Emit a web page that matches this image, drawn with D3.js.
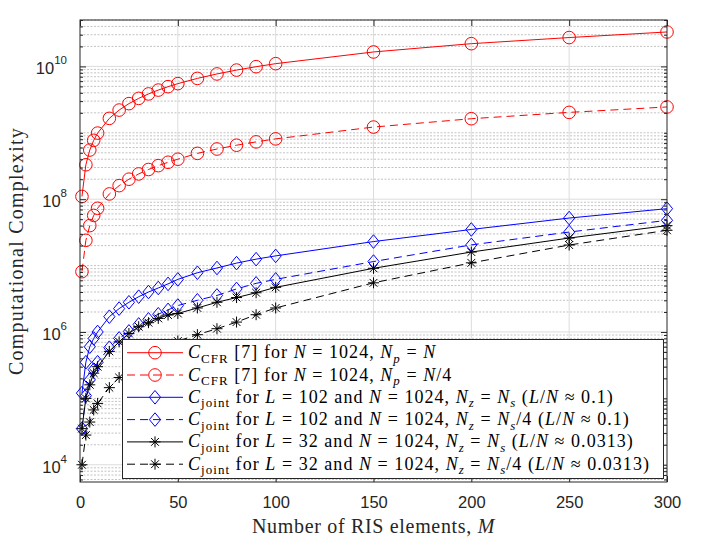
<!DOCTYPE html>
<html>
<head>
<meta charset="utf-8">
<script src="https://cdn.jsdelivr.net/npm/d3@7"></script>
<style>
  body { margin: 0; background: #fff; }
  svg { display: block; }
</style>
</head>
<body>
<svg id="chart" width="716" height="560"></svg>
<script>
// number of RIS elements
const M = [1, 3, 5, 7, 9, 15, 20, 25, 30, 35, 40, 45, 50, 60, 70, 80, 90, 100, 150, 200, 250, 300];

// C_CFR, Np = N
const cfrFull = [1.1e8, 3.3e8, 5.5e8, 7.7e8, 9.9e8, 1.65e9, 2.2e9, 2.75e9, 3.3e9, 3.85e9, 4.4e9,
    4.95e9, 5.5e9, 6.6e9, 7.7e9, 8.8e9, 9.9e9, 1.1e10, 1.65e10, 2.2e10, 2.72e10, 3.3e10];
// C_CFR, Np = N/4
const cfrQuarter = [8.1e6, 2.4e7, 4.0e7, 5.7e7, 7.3e7, 1.2e8, 1.6e8, 2.0e8, 2.4e8, 2.8e8, 3.2e8,
    3.6e8, 4.0e8, 4.9e8, 5.7e8, 6.5e8, 7.3e8, 8.1e8, 1.22e9, 1.63e9, 2.03e9, 2.45e9];
// C_joint, L = 102, Nz = Ns
const joint102 = [1.2e5, 3.5e5, 6.0e5, 8.0e5, 1.0e6, 1.7e6, 2.25e6, 2.8e6, 3.4e6, 4.0e6, 4.6e6,
    5.3e6, 6.2e6, 7.8e6, 9.2e6, 1.09e7, 1.25e7, 1.4e7, 2.3e7, 3.5e7, 5.2e7, 7.2e7];
// C_joint, L = 102, Nz = Ns/4
const joint102q = [3.5e4, 1.1e5, 1.9e5, 2.7e5, 3.5e5, 5.8e5, 8.0e5, 1.02e6, 1.3e6, 1.55e6, 1.85e6,
    2.15e6, 2.5e6, 3.0e6, 3.55e6, 4.45e6, 5.4e6, 6.2e6, 1.15e7, 2.05e7, 3.2e7, 4.8e7];
// C_joint, L = 32, Nz = Ns
const joint32 = [3.5e4, 1.0e5, 1.6e5, 2.4e5, 3.0e5, 5.1e5, 7.1e5, 9.5e5, 1.2e6, 1.38e6, 1.6e6,
    1.8e6, 1.9e6, 2.3e6, 2.8e6, 3.3e6, 3.9e6, 4.7e6, 9.1e6, 1.6e7, 2.6e7, 4.0e7];
// C_joint, L = 32, Nz = Ns/4
const joint32q = [1.0e4, 2.8e4, 4.4e4, 6.7e4, 8.4e4, 1.45e5, 2.06e5, 2.8e5, 3.5e5, 4.3e5, 5.2e5,
    6.2e5, 7.3e5, 9.1e5, 1.12e6, 1.41e6, 1.82e6, 2.3e6, 5.5e6, 1.1e7, 2.04e7, 3.4e7];

const xTicks = [0, 50, 100, 150, 200, 250, 300];
const yTicks = [1e4, 1e6, 1e8, 1e10];

// legend labels: [text, kind] r = roman, i = italic, sr/si = subscript roman/italic
const legendLabels = [
    [["C", "i"], ["CFR", "sr"], [" [7] for ", "r"], ["N", "i"], [" = 1024, ", "r"], ["N", "i"], ["p", "si"], [" = ", "r"], ["N", "i"]],
    [["C", "i"], ["CFR", "sr"], [" [7] for ", "r"], ["N", "i"], [" = 1024, ", "r"], ["N", "i"], ["p", "si"], [" = ", "r"], ["N", "i"], ["/4", "r"]],
    [["C", "i"], ["joint", "sr"], [" for ", "r"], ["L", "i"], [" = 102 and ", "r"], ["N", "i"], [" = 1024, ", "r"], ["N", "i"], ["z", "si"], [" = ", "r"], ["N", "i"], ["s", "si"], [" (", "r"], ["L", "i"], ["/", "r"], ["N", "i"], [" \u2248 0.1)", "r"]],
    [["C", "i"], ["joint", "sr"], [" for ", "r"], ["L", "i"], [" = 102 and ", "r"], ["N", "i"], [" = 1024, ", "r"], ["N", "i"], ["z", "si"], [" = ", "r"], ["N", "i"], ["s", "si"], ["/4 (", "r"], ["L", "i"], ["/", "r"], ["N", "i"], [" \u2248 0.1)", "r"]],
    [["C", "i"], ["joint", "sr"], [" for ", "r"], ["L", "i"], [" = 32 and ", "r"], ["N", "i"], [" = 1024, ", "r"], ["N", "i"], ["z", "si"], [" = ", "r"], ["N", "i"], ["s", "si"], [" (", "r"], ["L", "i"], ["/", "r"], ["N", "i"], [" \u2248 0.0313)", "r"]],
    [["C", "i"], ["joint", "sr"], [" for ", "r"], ["L", "i"], [" = 32 and ", "r"], ["N", "i"], [" = 1024, ", "r"], ["N", "i"], ["z", "si"], [" = ", "r"], ["N", "i"], ["s", "si"], ["/4 (", "r"], ["L", "i"], ["/", "r"], ["N", "i"], [" \u2248 0.0313)", "r"]]
];

const series = [
    { values: cfrFull, color: "#ff0000", dash: null, marker: "circle" },
    { values: cfrQuarter, color: "#ff0000", dash: "8,5", marker: "circle" },
    { values: joint102, color: "#0000ff", dash: null, marker: "diamond" },
    { values: joint102q, color: "#0000ff", dash: "8,5", marker: "diamond" },
    { values: joint32, color: "#000000", dash: null, marker: "star" },
    { values: joint32q, color: "#000000", dash: "8,5", marker: "star" }
];

const svg = d3.select("#chart");
const pLeft = 80, pRight = 667, pTop = 20, pBottom = 482;
const axisColor = "#262626";
const serif = "'Liberation Serif', 'DejaVu Serif', serif";
const sans = "'Liberation Sans', Arial, sans-serif";

const x = d3.scaleLinear().domain([0, 300]).range([pLeft, pRight]);
const y = d3.scaleLog().domain([5.5e3, 5e10]).range([pBottom, pTop]);

// minor values of the log axis
const minor = [];
for (let k = 3; k <= 10; k++) {
    for (let j = 1; j <= 9; j++) {
        const v = j * Math.pow(10, k);
        if (v < y.domain()[0] || v > y.domain()[1]) continue;
        if (yTicks.includes(v)) continue;
        minor.push(v);
    }
}

// grid
const grid = svg.append("g");
grid.selectAll("line.minor")
    .data(minor)
    .join("line")
    .attr("x1", pLeft).attr("x2", pRight)
    .attr("y1", d => y(d)).attr("y2", d => y(d))
    .attr("stroke", "#b4b4b4")
    .attr("stroke-width", 0.8)
    .attr("stroke-dasharray", "2,1.5");
grid.selectAll("line.hmajor")
    .data(yTicks)
    .join("line")
    .attr("x1", pLeft).attr("x2", pRight)
    .attr("y1", d => y(d)).attr("y2", d => y(d))
    .attr("stroke", "#dcdcdc")
    .attr("stroke-width", 1);
grid.selectAll("line.vmajor")
    .data(xTicks.slice(1, -1))
    .join("line")
    .attr("x1", d => x(d)).attr("x2", d => x(d))
    .attr("y1", pTop).attr("y2", pBottom)
    .attr("stroke", "#dcdcdc")
    .attr("stroke-width", 1);

// series
const line = d3.line().x(d => x(d[0])).y(d => y(d[1]));

function drawMarker(g, type, color) {
    if (type === "circle") {
        g.append("circle").attr("r", 6.3)
            .attr("fill", "none").attr("stroke", color).attr("stroke-width", 1);
    } else if (type === "diamond") {
        g.append("path").attr("d", "M0,-6.8L5.6,0L0,6.8L-5.6,0Z")
            .attr("fill", "none").attr("stroke", color).attr("stroke-width", 1);
    } else {
        g.append("path").attr("d", "M0,-5.5V5.5M-5.5,0H5.5M-3.9,-3.9L3.9,3.9M-3.9,3.9L3.9,-3.9")
            .attr("fill", "none").attr("stroke", color).attr("stroke-width", 1);
    }
}

const plot = svg.append("g");
series.forEach(s => {
    const pts = M.map((m, i) => [m, s.values[i]]);
    plot.append("path")
        .datum(pts)
        .attr("d", line)
        .attr("fill", "none")
        .attr("stroke", s.color)
        .attr("stroke-width", 1)
        .attr("stroke-dasharray", s.dash);
    plot.selectAll(null)
        .data(pts)
        .join("g")
        .attr("transform", d => `translate(${x(d[0])},${y(d[1])})`)
        .each(function() { drawMarker(d3.select(this), s.marker, s.color); });
});

// axes with inward ticks
function styleAxis(g) {
    g.select(".domain").remove();
    g.selectAll(".tick line").attr("stroke", axisColor);
    g.selectAll(".tick text").attr("fill", axisColor);
}

svg.append("g")
    .attr("transform", `translate(0,${pBottom})`)
    .call(d3.axisBottom(x).tickValues(xTicks).tickSize(-6).tickPadding(14))
    .call(styleAxis)
    .call(g => g.selectAll(".tick text")
        .attr("font-family", sans).attr("font-size", 16.5));

svg.append("g")
    .attr("transform", `translate(0,${pTop})`)
    .call(d3.axisTop(x).tickValues(xTicks).tickSize(-6).tickFormat(""))
    .call(styleAxis);

svg.append("g")
    .attr("transform", `translate(${pLeft},0)`)
    .call(d3.axisLeft(y).tickValues(yTicks).tickSize(-6).tickFormat(""))
    .call(styleAxis);
svg.append("g")
    .attr("transform", `translate(${pLeft},0)`)
    .call(d3.axisLeft(y).tickValues(minor).tickSize(-3).tickFormat(""))
    .call(styleAxis);
svg.append("g")
    .attr("transform", `translate(${pRight},0)`)
    .call(d3.axisRight(y).tickValues(yTicks).tickSize(-6).tickFormat(""))
    .call(styleAxis);
svg.append("g")
    .attr("transform", `translate(${pRight},0)`)
    .call(d3.axisRight(y).tickValues(minor).tickSize(-3).tickFormat(""))
    .call(styleAxis);

// y tick labels 10^k
const yLab = svg.append("g")
    .attr("font-family", sans)
    .attr("fill", axisColor)
    .attr("text-anchor", "end");
yTicks.forEach(v => {
    const t = yLab.append("text")
        .attr("x", pLeft - 13)
        .attr("y", y(v) + 8);
    t.append("tspan").attr("font-size", 16.5).text("10");
    t.append("tspan").attr("font-size", 11.5).attr("dy", -10).text(Math.round(Math.log10(v)));
});

// frame
svg.append("rect")
    .attr("x", pLeft).attr("y", pTop)
    .attr("width", pRight - pLeft).attr("height", pBottom - pTop)
    .attr("fill", "none")
    .attr("stroke", axisColor)
    .attr("stroke-width", 1);

// rich text helper
function addRich(text, parts, size) {
    let sub = false;
    parts.forEach(([str, kind]) => {
        const isSub = kind === "sr" || kind === "si";
        const ts = text.append("tspan")
            .attr("font-style", (kind === "i" || kind === "si") ? "italic" : "normal")
            .attr("font-size", isSub ? size * 0.72 : size)
            .text(str);
        if (isSub && !sub) ts.attr("dy", size * 0.25);
        if (!isSub && sub) ts.attr("dy", -size * 0.25);
        sub = isSub;
    });
}

// stretch a text to a target width with letter spacing (LaTeX fonts are wider)
function fitSpacing(text, target) {
    const n = text.text().length;
    const w = text.node().getComputedTextLength();
    const ls = (target - w) / n;
    text.attr("letter-spacing", ls);
    return ls;
}

// axis labels
const xl = svg.append("text")
    .attr("x", (pLeft + pRight) / 2)
    .attr("y", 533)
    .attr("text-anchor", "middle")
    .attr("font-family", serif)
    .attr("fill", axisColor);
addRich(xl, [["Number of RIS elements, ", "r"], ["M", "i"]], 20);
fitSpacing(xl, 243);

const yl = svg.append("text")
    .attr("transform", `translate(23,${(pTop + pBottom) / 2}) rotate(-90)`)
    .attr("text-anchor", "middle")
    .attr("font-family", serif)
    .attr("font-size", 20)
    .attr("fill", axisColor)
    .text("Computational Complexity");
fitSpacing(yl, 248);

// legend
const lg = svg.append("g");
lg.append("rect")
    .attr("x", 122.5).attr("y", 339.5)
    .attr("width", 541).attr("height", 139)
    .attr("fill", "#fff")
    .attr("stroke", axisColor)
    .attr("stroke-width", 1);

const rowY = i => 352.7 + i * 22.3;
const fontSize = 18;
const legTexts = [];
series.forEach((s, i) => {
    const cy = rowY(i);
    lg.append("line")
        .attr("x1", 127).attr("x2", 183)
        .attr("y1", cy).attr("y2", cy)
        .attr("stroke", s.color)
        .attr("stroke-width", 1)
        .attr("stroke-dasharray", s.dash);
    const mg = lg.append("g").attr("transform", `translate(155,${cy})`);
    drawMarker(mg, s.marker, s.color);
    const t = lg.append("text")
        .attr("x", 188)
        .attr("y", cy + 5.5)
        .attr("font-family", serif)
        .attr("fill", "#000");
    addRich(t, legendLabels[i], fontSize);
    legTexts.push(t);
});
// longest row spans to about x = 650 in the reference
const ls = fitSpacing(legTexts[5], 650 - 188);
legTexts.forEach(t => t.attr("letter-spacing", ls));
</script>
</body>
</html>
